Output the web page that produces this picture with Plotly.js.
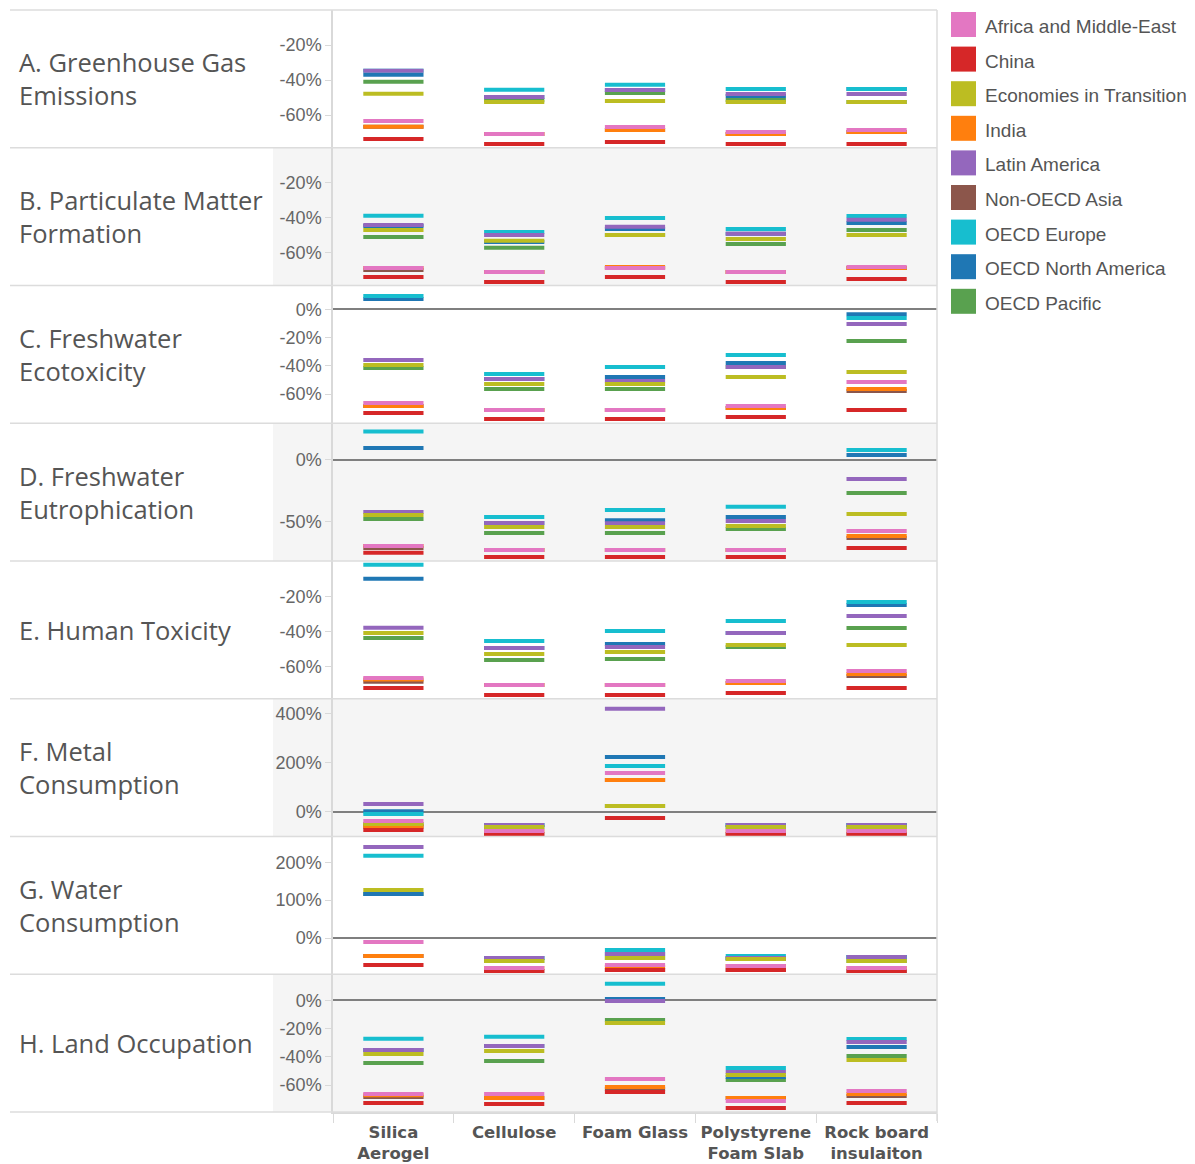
<!DOCTYPE html>
<html><head><meta charset="utf-8">
<script src="https://cdn.plot.ly/plotly-3.0.1.min.js"></script>
<style>body{margin:0;background:#fff}</style>
</head><body><div id="chart" style="width:1195px;height:1164px"></div>
<script>
// ---------- data ----------
const materials = ['Silica Aerogel', 'Cellulose', 'Foam Glass', 'Polystyrene Foam Slab', 'Rock board insulaiton'];
const materialLabels = ['Silica<br>Aerogel', 'Cellulose', 'Foam Glass', 'Polystyrene<br>Foam Slab', 'Rock board<br>insulaiton'];
const regions = ['Africa and Middle-East', 'China', 'Economies in Transition', 'India', 'Latin America',
                 'Non-OECD Asia', 'OECD Europe', 'OECD North America', 'OECD Pacific'];
const regionColors = ['#e377c2', '#d62728', '#bcbd22', '#ff7f0e', '#9467bd', '#8c564b', '#17becf', '#1f77b4', '#59a14f'];
const impactTitles = ['A. Greenhouse Gas<br>Emissions', 'B. Particulate Matter<br>Formation', 'C. Freshwater<br>Ecotoxicity',
                      'D. Freshwater<br>Eutrophication', 'E. Human Toxicity', 'F. Metal<br>Consumption',
                      'G. Water<br>Consumption', 'H. Land Occupation'];

// rows = regions (legend order), columns = materials; % change
const ghgEmissions = [
  [-63.4, -70.9, -66.9, -69.7, -68.6],
  [-73.7, -76.6, -75.4, -76.6, -76.6],
  [-47.8, -52.6, -52.0, -52.6, -52.6],
  [-66.7, -70.9, -68.6, -70.9, -69.7],
  [-34.7, -49.7, -45.7, -48.0, -48.0],
  [-66.7, -70.9, -68.6, -70.9, -69.7],
  [-34.7, -45.5, -42.7, -45.1, -45.1],
  [-37.0, -49.7, -45.7, -49.1, -45.1],
  [-41.0, -51.5, -47.4, -51.4, -52.6]];
const particulateMatter = [
  [-68.6, -70.9, -68.6, -70.9, -68.0],
  [-73.7, -76.6, -73.7, -76.6, -74.9],
  [-46.9, -53.1, -49.7, -52.0, -49.7],
  [-68.6, -70.9, -68.0, -70.9, -68.6],
  [-44.0, -49.7, -45.1, -49.1, -41.1],
  [-69.7, -70.9, -68.6, -70.9, -68.6],
  [-38.7, -48.0, -40.0, -46.3, -38.9],
  [-44.6, -53.7, -46.3, -49.1, -42.9],
  [-50.9, -57.1, -49.7, -54.9, -46.9]];
const freshwaterEcotox = [
  [-66.4, -71.3, -71.3, -68.5, -51.5],
  [-73.5, -77.7, -77.7, -76.3, -71.3],
  [-39.5, -52.9, -52.9, -48.0, -44.4],
  [-68.5, -71.3, -71.3, -69.9, -56.5],
  [-35.9, -49.4, -50.8, -40.9, -10.4],
  [-68.5, -71.3, -71.3, -69.9, -57.9],
  [9.4, -45.8, -40.9, -32.4, -6.1],
  [7.3, -49.4, -48.0, -38.0, -3.5],
  [-41.6, -56.5, -56.5, -40.9, -22.4]];
const freshwaterEutro = [
  [-69.3, -72.5, -72.5, -72.5, -57.2],
  [-74.6, -78.1, -78.1, -78.1, -70.9],
  [-44.4, -54.0, -54.0, -53.2, -43.6],
  [-69.3, -72.5, -72.5, -72.5, -61.2],
  [-42.0, -50.8, -51.0, -49.2, -15.5],
  [-70.9, -72.5, -72.5, -72.5, -62.8],
  [22.5, -46.0, -40.4, -37.7, 7.8],
  [9.4, -50.8, -48.6, -46.0, 3.7],
  [-47.6, -58.8, -58.8, -55.6, -26.7]];
const humanToxicity = [
  [-66.5, -70.5, -70.5, -68.2, -62.5],
  [-72.2, -76.2, -76.2, -75.0, -72.2],
  [-40.8, -52.8, -51.6, -47.6, -47.6],
  [-67.3, -70.5, -70.5, -69.3, -64.2],
  [-37.7, -49.3, -48.8, -40.8, -31.0],
  [-68.6, -70.5, -70.5, -69.3, -65.3],
  [-1.7, -45.3, -39.6, -33.9, -23.0],
  [-9.7, -49.3, -47.0, -40.8, -24.8],
  [-43.6, -56.2, -55.6, -48.8, -37.9]];
const metalConsumption = [
  [-36.6, -77.3, 158.6, -77.3, -77.3],
  [-73.2, -89.5, -24.4, -89.5, -89.5],
  [-48.8, -61.0, 24.4, -61.0, -61.0],
  [-56.9, -77.3, 130.2, -77.3, -77.3],
  [32.5, -52.9, 420.3, -52.9, -52.9],
  [-60.0, -89.5, 130.2, -89.5, -89.5],
  [-8.1, -52.9, 187.1, -52.9, -52.9],
  [3.0, -52.9, 223.7, -52.9, -52.9],
  [-48.8, -61.0, 24.4, -61.0, -61.0]];
const waterConsumption = [
  [-10.6, -79.3, -71.4, -74.0, -79.3],
  [-71.4, -87.2, -84.6, -84.6, -87.2],
  [126.9, -60.8, -52.9, -55.5, -60.8],
  [-47.6, -79.3, -75.8, -74.0, -79.3],
  [240.5, -52.9, -42.3, -52.9, -50.2],
  [-47.6, -87.2, -84.6, -84.6, -87.2],
  [217.6, -52.9, -31.7, -47.6, -50.2],
  [116.3, -52.9, -42.3, -52.9, -50.2],
  [116.3, -60.8, -52.9, -55.5, -60.8]];
const landOccupation = [
  [-66.4, -66.4, -55.8, -71.3, -64.3],
  [-72.8, -73.5, -65.0, -76.3, -72.8],
  [-38.0, -35.9, -16.1, -52.9, -42.3],
  [-67.3, -69.2, -61.4, -69.2, -66.4],
  [-35.2, -32.4, -0.5, -50.8, -29.5],
  [-68.5, -69.2, -62.8, -69.2, -67.8],
  [-27.2, -25.8, 11.8, -48.0, -27.4],
  [-35.2, -32.4, 0.9, -54.3, -33.1],
  [-44.4, -43.0, -13.9, -56.5, -39.5]];

const tickValsA = [-20, -40, -60];
const tickValsC = [0, -20, -40, -60];
const tickValsD = [0, -50];
const tickValsF = [0, 200, 400];
const tickValsG = [0, 100, 200];

// ---------- layout helpers ----------
const W = 1195, H = 1164, L = 333, R = 937, T = 10, B = 1112;
const pw = R - L, ph = B - T;
const px = x => (x - L) / pw;
const py = y => 1 - (y - T) / ph;
const pctText = v => (v < 0 ? '-' : '') + Math.abs(v) + '%';

const panels = [
  {data: ghgEmissions, ticks: tickValsA, range: [-78.7, 0], zero: false},
  {data: particulateMatter, ticks: tickValsA, range: [-78.6, 0.1], zero: false},
  {data: freshwaterEcotox, ticks: tickValsC, range: [-80.7, 16.9], zero: true},
  {data: freshwaterEutro, ticks: tickValsD, range: [-81.3, 29.2], zero: true},
  {data: humanToxicity, ticks: tickValsA, range: [-78.3, 0.4], zero: false},
  {data: metalConsumption, ticks: tickValsF, range: [-99.7, 460.7], zero: true},
  {data: waterConsumption, ticks: tickValsG, range: [-95.8, 268.3], zero: true},
  {data: landOccupation, ticks: tickValsC, range: [-79.1, 18.5], zero: true}
];

const traces = [];
const layout = {
  width: W, height: H,
  margin: {l: L, r: W - R, t: T, b: H - B, pad: 0},
  paper_bgcolor: '#ffffff', plot_bgcolor: 'rgba(0,0,0,0)',
  showlegend: false,
  font: {family: 'Liberation Sans, Arial, sans-serif', color: '#666'},
  xaxis: {
    type: 'category', categoryorder: 'array', categoryarray: materials,
    tickvals: materials, ticktext: materialLabels,
    range: [-0.5, 4.5], anchor: 'y8', tickson: 'boundaries',
    ticks: 'outside', ticklen: 9, tickcolor: '#d9d9d9', tickwidth: 1,
    ticklabelstandoff: 4,
    showline: true, linecolor: '#d9d9d9', linewidth: 1.5, showgrid: false, zeroline: false,
    tickfont: {family: 'DejaVu Sans, sans-serif', size: 16.5, color: '#555', weight: 'bold'}
  },
  shapes: [], annotations: []
};

const n = panels.length;
panels.forEach((p, k) => {
  const yName = k === 0 ? 'yaxis' : 'yaxis' + (k + 1);
  const yRef = k === 0 ? 'y' : 'y' + (k + 1);
  const d0 = 1 - (k + 1) / n, d1 = 1 - k / n;
  layout[yName] = {
    domain: [d0, d1], anchor: 'x', range: p.range,
    tickvals: p.ticks, ticktext: p.ticks.map(pctText),
    ticks: 'outside', ticklen: 6, tickcolor: '#d9d9d9',
    showgrid: false, showline: true, linecolor: '#d9d9d9', linewidth: 1.5,
    zeroline: p.zero, zerolinecolor: '#7f7f7f', zerolinewidth: 2,
    tickfont: {family: 'Liberation Sans, Arial, sans-serif', size: 18, color: '#666'},
    fixedrange: true
  };
  // marks: draw in reverse legend order (first region on top)
  for (let r = regions.length - 1; r >= 0; r--) {
    traces.push({
      type: 'scatter', mode: 'markers', x: materials, y: p.data[r],
      xaxis: 'x', yaxis: yRef, name: regions[r], cliponaxis: false,
      marker: {symbol: 'line-ew', size: 43, color: regionColors[r],
               line: {width: 4, color: regionColors[r]}},
      hovertemplate: regions[r] + '<br>%{x}: %{y:.1f}%<extra></extra>'
    });
  }
  // shaded rows
  if (k % 2 === 1) {
    layout.shapes.push({type: 'rect', xref: 'paper', yref: 'paper', x0: px(273), x1: 1, y0: d0, y1: d1,
      fillcolor: '#f5f5f5', line: {width: 0}, layer: 'below'});
  }
  // row title
  layout.annotations.push({xref: 'paper', yref: 'paper', x: px(17), y: (d0 + d1) / 2,
    xanchor: 'left', yanchor: 'middle', align: 'left', showarrow: false, text: impactTitles[k],
    font: {family: 'Open Sans, sans-serif', size: 25.5, color: '#555'}});
});
// separators
for (let k = 0; k <= n; k++) {
  layout.shapes.push({type: 'line', xref: 'paper', yref: 'paper', x0: px(10), x1: 1, y0: k / n, y1: k / n,
    line: {color: '#dcdcdc', width: 1.5}, layer: 'above'});
}
layout.shapes.push({type: 'line', xref: 'paper', yref: 'paper', x0: 1, x1: 1, y0: py(1121), y1: 1,
  line: {color: '#dcdcdc', width: 1.5}});

// legend (built from regions / colors)
regions.forEach((name, i) => {
  const cy = 24.5 + 34.6 * i;
  layout.shapes.push({type: 'rect', xref: 'paper', yref: 'paper', x0: px(951), x1: px(976),
    y0: py(cy + 12.5), y1: py(cy - 12.5), fillcolor: regionColors[i], line: {width: 0}});
  layout.annotations.push({xref: 'paper', yref: 'paper', x: px(983), y: py(cy + 2), xanchor: 'left',
    yanchor: 'middle', showarrow: false, text: name,
    font: {family: 'Liberation Sans, Arial, sans-serif', size: 19, color: '#555'}});
});

Plotly.newPlot('chart', traces, layout, {displayModeBar: false, responsive: false});
</script>
</body></html>
